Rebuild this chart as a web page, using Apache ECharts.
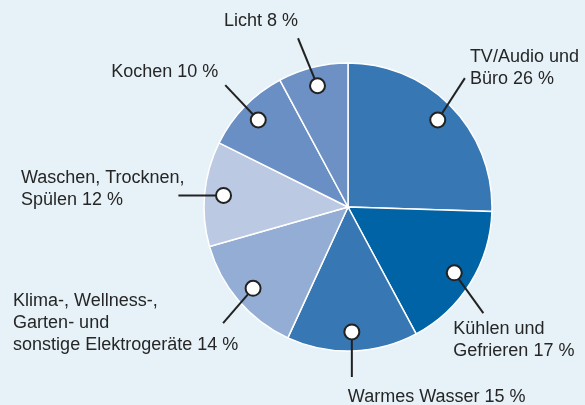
<!DOCTYPE html>
<html>
<head>
<meta charset="utf-8">
<script src="https://cdn.jsdelivr.net/npm/echarts@6/dist/echarts.min.js"></script>
<style>
  html, body { margin: 0; padding: 0; background: #e6f2f8; }
  #chart { width: 585px; height: 405px; }
</style>
</head>
<body>
<div id="chart"></div>
<script>
// Stromverbrauch im Haushalt, Anteile in %
const categories = [
    'TV/Audio und\nBüro',
    'Kühlen und\nGefrieren',
    'Warmes Wasser',
    'Klima-, Wellness-,\nGarten- und\nsonstige Elektrogeräte',
    'Waschen, Trocknen,\nSpülen',
    'Kochen',
    'Licht'
]
const shares = [26, 17, 15, 14, 12, 10, 8]

const sliceColors = ['#3677b4', '#0063a5', '#3677b4', '#93add4', '#bbc9e3', '#6a8fc4', '#6d91c4']

// Ende der Hinweislinie: [radius px, winkel grad] und Textversatz
const leaderEnds = [[174, 42.2], [172, 128.1], [170, 178.7], [170.5, 227.1], [170, 273.9], [173, 314.8], [176, 343.5]]
const textOffsets = [
    [5, -32, 'left', 'top'],
    [-30, 5, 'left', 'top'],
    [-4, 9, 'left', 'top'],
    [-210, -33.5, 'left', 'top'],
    [-157.5, -28, 'left', 'top'],
    [-7, -2, 'right', 'bottom'],
    [0, -6.5, 'right', 'bottom']
]

const center = [348, 207]
const R = 144
const polarR = 220   // polar etwas groesser, damit die Linien nicht abgeschnitten werden
const dotRadius = 125

const total = shares.reduce((a, b) => a + b, 0)
let acc = 0
const midAngles = shares.map(v => {
    const m = (acc + v / 2) / total * 360
    acc += v
    return m
})

const textStyle = {
    fontFamily: 'Liberation Sans, Arial, sans-serif',
    fontSize: 18,
    lineHeight: 22,
    color: '#262626'
}

const leaderSeries = categories.map((name, i) => ({
    type: 'line',
    coordinateSystem: 'polar',
    silent: true,
    clip: false,
    z: 5,
    showSymbol: true,
    lineStyle: { color: '#222', width: 2 },
    data: [
        {
            value: [dotRadius, midAngles[i]],
            symbol: 'circle',
            symbolSize: 15,
            itemStyle: { color: '#fff', borderColor: '#222', borderWidth: 2 }
        },
        {
            value: leaderEnds[i],
            symbol: 'circle',
            symbolSize: 0,
            itemStyle: { color: 'rgba(0,0,0,0)', borderWidth: 0 },
            label: {
                show: true,
                position: [textOffsets[i][0], textOffsets[i][1]],
                align: textOffsets[i][2],
                verticalAlign: textOffsets[i][3],
                formatter: name + ' ' + shares[i] + ' %',
                ...textStyle
            }
        }
    ]
}))

const option = {
    backgroundColor: '#e6f2f8',
    animation: false,
    polar: { center: center, radius: polarR },
    angleAxis: { type: 'value', min: 0, max: 360, startAngle: 90, clockwise: true, show: false },
    radiusAxis: { type: 'value', min: 0, max: polarR, show: false },
    series: [
        {
            type: 'pie',
            center: center,
            radius: R,
            startAngle: 90,
            clockwise: true,
            silent: true,
            label: { show: false },
            labelLine: { show: false },
            itemStyle: { borderColor: '#fff', borderWidth: 1.5 },
            data: shares.map((v, i) => ({
                name: categories[i],
                value: v,
                itemStyle: { color: sliceColors[i] }
            }))
        },
        ...leaderSeries
    ]
}

const chart = echarts.init(document.getElementById('chart'))
chart.setOption(option)
</script>
</body>
</html>
